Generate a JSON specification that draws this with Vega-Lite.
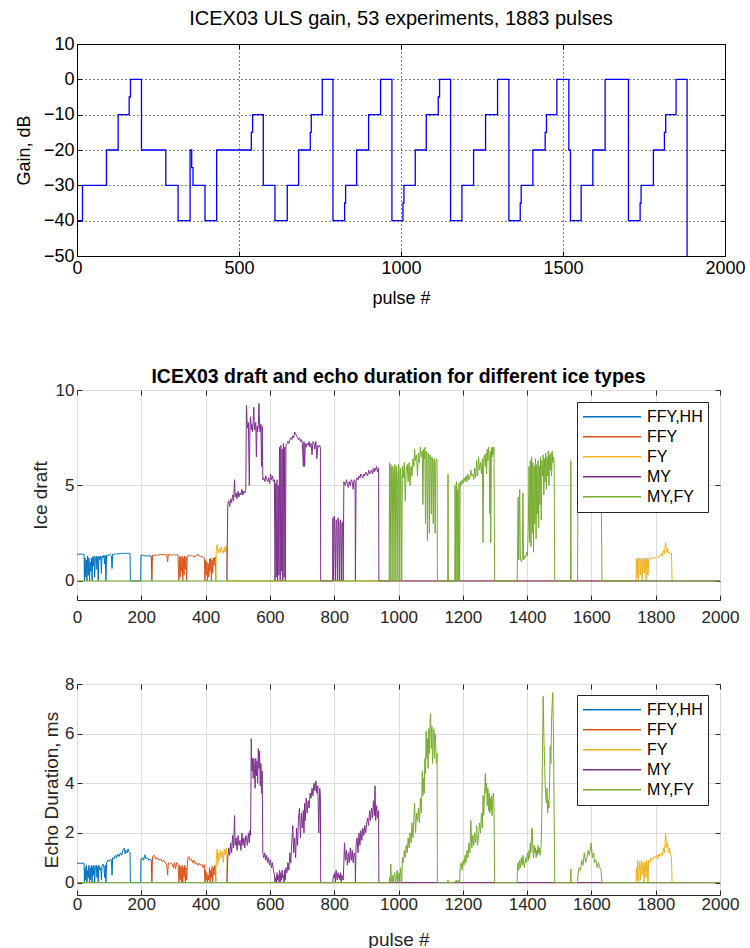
{
  "$schema": "https://vega.github.io/schema/vega-lite/v6.json",
  "background": "white",
  "padding": {"left": 14, "top": 8, "right": 5, "bottom": 5},
  "config": {"font": "Liberation Sans", "view": {"stroke": "#262626"}, "axis": {"labelFlush": false, "labelOverlap": false}},
  "datasets": {
    "gain": [
      {"p":0,"g":-40},{"p":17,"g":-30},{"p":91,"g":-20},{"p":127,"g":-10},{"p":161,"g":-5},{"p":165,"g":0},{"p":199,"g":-20},{"p":274,"g":-30},{"p":312,"g":-40},{"p":349,"g":-20},{"p":354,"g":-25},{"p":358,"g":-30},{"p":395,"g":-40},{"p":431,"g":-20},{"p":538,"g":-15},{"p":542,"g":-10},{"p":575,"g":-30},{"p":611,"g":-40},{"p":649,"g":-30},{"p":684,"g":-20},{"p":720,"g":-15},{"p":723,"g":-10},{"p":757,"g":0},{"p":790,"g":-40},{"p":826,"g":-35},{"p":829,"g":-30},{"p":863,"g":-20},{"p":900,"g":-10},{"p":937,"g":0},{"p":972,"g":-40},{"p":1006,"g":-35},{"p":1009,"g":-30},{"p":1044,"g":-20},{"p":1078,"g":-10},{"p":1115,"g":-5},{"p":1119,"g":0},{"p":1153,"g":-40},{"p":1188,"g":-30},{"p":1224,"g":-20},{"p":1261,"g":-10},{"p":1298,"g":0},{"p":1333,"g":-40},{"p":1368,"g":-35},{"p":1371,"g":-30},{"p":1407,"g":-20},{"p":1445,"g":-15},{"p":1449,"g":-10},{"p":1481,"g":0},{"p":1518,"g":-20},{"p":1523,"g":-40},{"p":1556,"g":-30},{"p":1592,"g":-20},{"p":1630,"g":0},{"p":1702,"g":-40},{"p":1738,"g":-35},{"p":1741,"g":-30},{"p":1779,"g":-20},{"p":1813,"g":-15},{"p":1817,"g":-10},{"p":1849,"g":0},{"p":1883,"g":-50}
    ],
    "ice": [
      {"p":0,"t":"FFY,HH","d":1.4,"e":0.78},{"p":22,"t":"FFY,HH","d":1.4,"e":0.78},{"p":23,"t":"FFY,HH","d":0,"e":0},{"p":25,"t":"FFY,HH","d":1.2,"e":0.6},{"p":27,"t":"FFY,HH","d":0.2,"e":0.1},{"p":29,"t":"FFY,HH","d":1.1,"e":0.7},{"p":31,"t":"FFY,HH","d":0,"e":0},{"p":33,"t":"FFY,HH","d":1.3,"e":0.5},{"p":35,"t":"FFY,HH","d":0.3,"e":0.2},{"p":37,"t":"FFY,HH","d":1.2,"e":0.7},{"p":39,"t":"FFY,HH","d":0,"e":0},{"p":41,"t":"FFY,HH","d":1.0,"e":0.6},{"p":43,"t":"FFY,HH","d":0.5,"e":0.1},{"p":45,"t":"FFY,HH","d":1.2,"e":0.7},{"p":47,"t":"FFY,HH","d":0,"e":0},{"p":49,"t":"FFY,HH","d":1.25,"e":0.65},{"p":51,"t":"FFY,HH","d":0.8,"e":0.3},{"p":53,"t":"FFY,HH","d":1.3,"e":0.7},{"p":55,"t":"FFY,HH","d":0.2,"e":0},{"p":57,"t":"FFY,HH","d":1.1,"e":0.6},{"p":60,"t":"FFY,HH","d":1.3,"e":0.7},{"p":62,"t":"FFY,HH","d":0.6,"e":0.2},{"p":64,"t":"FFY,HH","d":1.25,"e":0.65},{"p":66,"t":"FFY,HH","d":0,"e":0},{"p":68,"t":"FFY,HH","d":1.3,"e":0.7},{"p":71,"t":"FFY,HH","d":1.1,"e":0.5},{"p":74,"t":"FFY,HH","d":1.3,"e":0.6},{"p":76,"t":"FFY,HH","d":0.4,"e":0.1},{"p":78,"t":"FFY,HH","d":1.3,"e":0.7},{"p":81,"t":"FFY,HH","d":1.2,"e":0.75},{"p":84,"t":"FFY,HH","d":1.35,"e":0.6},{"p":86,"t":"FFY,HH","d":0.9,"e":0.2},{"p":88,"t":"FFY,HH","d":1.3,"e":0.7},{"p":90,"t":"FFY,HH","d":0,"e":0},{"p":92,"t":"FFY,HH","d":1.35,"e":0.8},{"p":96,"t":"FFY,HH","d":1.3,"e":0.9},{"p":100,"t":"FFY,HH","d":1.4,"e":0.85},{"p":104,"t":"FFY,HH","d":1.35,"e":0.95},{"p":107,"t":"FFY,HH","d":1.3,"e":0.9},{"p":109,"t":"FFY,HH","d":0.65,"e":0.3},{"p":111,"t":"FFY,HH","d":1.4,"e":1.0},{"p":115,"t":"FFY,HH","d":1.38,"e":0.95},{"p":119,"t":"FFY,HH","d":1.42,"e":1.1},{"p":123,"t":"FFY,HH","d":1.4,"e":1.0},{"p":127,"t":"FFY,HH","d":1.43,"e":1.15},{"p":131,"t":"FFY,HH","d":1.42,"e":1.05},{"p":135,"t":"FFY,HH","d":1.45,"e":1.2},{"p":139,"t":"FFY,HH","d":1.43,"e":1.1},{"p":143,"t":"FFY,HH","d":1.45,"e":1.3},{"p":147,"t":"FFY,HH","d":1.44,"e":1.38},{"p":150,"t":"FFY,HH","d":1.45,"e":1.15},{"p":153,"t":"FFY,HH","d":1.44,"e":1.3},{"p":156,"t":"FFY,HH","d":1.45,"e":1.2},{"p":159,"t":"FFY,HH","d":1.44,"e":1.35},{"p":162,"t":"FFY,HH","d":1.45,"e":1.25},{"p":165,"t":"FFY,HH","d":1.44,"e":1.2},{"p":166,"t":"FFY,HH","d":0,"e":0},{"p":198,"t":"FFY,HH","d":0,"e":0},{"p":199,"t":"FFY,HH","d":1.35,"e":0.95},{"p":203,"t":"FFY,HH","d":1.33,"e":1.0},{"p":207,"t":"FFY,HH","d":1.35,"e":0.9},{"p":211,"t":"FFY,HH","d":1.32,"e":1.12},{"p":215,"t":"FFY,HH","d":1.3,"e":0.95},{"p":219,"t":"FFY,HH","d":1.32,"e":1.0},{"p":223,"t":"FFY,HH","d":1.3,"e":0.9},{"p":227,"t":"FFY,HH","d":1.31,"e":0.95},{"p":231,"t":"FFY,HH","d":1.3,"e":0.9},{"p":233,"t":"FFY,HH","d":0,"e":0},
      {"p":233,"t":"FFY","d":0,"e":0},{"p":235,"t":"FFY","d":1.35,"e":1.05},{"p":240,"t":"FFY","d":1.33,"e":1.1},{"p":245,"t":"FFY","d":1.36,"e":0.95},{"p":250,"t":"FFY","d":1.35,"e":1.0},{"p":255,"t":"FFY","d":1.36,"e":0.9},{"p":260,"t":"FFY","d":1.38,"e":0.95},{"p":265,"t":"FFY","d":1.37,"e":0.85},{"p":270,"t":"FFY","d":1.38,"e":0.9},{"p":275,"t":"FFY","d":1.36,"e":0.8},{"p":279,"t":"FFY","d":1.38,"e":0.7},{"p":282,"t":"FFY","d":1.0,"e":0.3},{"p":284,"t":"FFY","d":1.37,"e":0.8},{"p":288,"t":"FFY","d":1.38,"e":0.75},{"p":292,"t":"FFY","d":1.37,"e":0.8},{"p":296,"t":"FFY","d":1.35,"e":0.75},{"p":300,"t":"FFY","d":1.38,"e":0.6},{"p":303,"t":"FFY","d":1.36,"e":0.8},{"p":306,"t":"FFY","d":1.35,"e":0.55},{"p":310,"t":"FFY","d":1.37,"e":0.8},{"p":314,"t":"FFY","d":1.36,"e":0.75},{"p":317,"t":"FFY","d":0,"e":0},{"p":319,"t":"FFY","d":1.3,"e":0.7},{"p":321,"t":"FFY","d":0.2,"e":0.1},{"p":323,"t":"FFY","d":1.25,"e":0.65},{"p":325,"t":"FFY","d":0.5,"e":0},{"p":327,"t":"FFY","d":1.3,"e":0.7},{"p":329,"t":"FFY","d":0,"e":0},{"p":331,"t":"FFY","d":1.2,"e":0.6},{"p":333,"t":"FFY","d":0.3,"e":0.2},{"p":335,"t":"FFY","d":1.3,"e":0.7},{"p":337,"t":"FFY","d":0.6,"e":0},{"p":339,"t":"FFY","d":1.25,"e":0.6},{"p":341,"t":"FFY","d":0,"e":0.1},{"p":343,"t":"FFY","d":1.3,"e":0.65},{"p":345,"t":"FFY","d":1.32,"e":1.0},{"p":348,"t":"FFY","d":1.33,"e":1.05},{"p":352,"t":"FFY","d":1.3,"e":0.9},{"p":356,"t":"FFY","d":1.32,"e":0.95},{"p":360,"t":"FFY","d":1.3,"e":0.8},{"p":364,"t":"FFY","d":1.28,"e":0.9},{"p":368,"t":"FFY","d":1.3,"e":0.75},{"p":372,"t":"FFY","d":1.32,"e":0.8},{"p":376,"t":"FFY","d":1.4,"e":0.7},{"p":380,"t":"FFY","d":1.3,"e":0.78},{"p":384,"t":"FFY","d":1.28,"e":0.7},{"p":388,"t":"FFY","d":1.25,"e":0.75},{"p":392,"t":"FFY","d":1.27,"e":0.6},{"p":396,"t":"FFY","d":1.2,"e":0.72},{"p":398,"t":"FFY","d":0,"e":0},{"p":400,"t":"FFY","d":1.1,"e":0.5},{"p":402,"t":"FFY","d":0.3,"e":0.1},{"p":404,"t":"FFY","d":1.0,"e":0.4},{"p":406,"t":"FFY","d":0,"e":0},{"p":408,"t":"FFY","d":0.9,"e":0.3},{"p":410,"t":"FFY","d":0.2,"e":0.1},{"p":412,"t":"FFY","d":1.15,"e":0.6},{"p":414,"t":"FFY","d":0.5,"e":0},{"p":416,"t":"FFY","d":1.2,"e":0.5},{"p":418,"t":"FFY","d":0,"e":0.2},{"p":420,"t":"FFY","d":1.1,"e":0.65},{"p":422,"t":"FFY","d":0.4,"e":0},{"p":424,"t":"FFY","d":1.2,"e":0.6},{"p":426,"t":"FFY","d":0.8,"e":0.3},{"p":428,"t":"FFY","d":1.2,"e":0.7},{"p":430,"t":"FFY","d":1.25,"e":0.67},{"p":432,"t":"FFY","d":0,"e":0},
      {"p":432,"t":"FY","d":0,"e":0},{"p":433,"t":"FY","d":1.5,"e":0.9},{"p":436,"t":"FY","d":1.9,"e":1.35},{"p":438,"t":"FY","d":1.6,"e":0.7},{"p":440,"t":"FY","d":1.45,"e":1.2},{"p":443,"t":"FY","d":1.7,"e":0.9},{"p":446,"t":"FY","d":1.5,"e":1.3},{"p":449,"t":"FY","d":1.8,"e":1.0},{"p":452,"t":"FY","d":1.55,"e":1.25},{"p":455,"t":"FY","d":1.45,"e":0.8},{"p":458,"t":"FY","d":1.75,"e":1.35},{"p":461,"t":"FY","d":1.5,"e":1.1},{"p":464,"t":"FY","d":1.85,"e":1.4},{"p":466,"t":"FY","d":1.5,"e":1.2},{"p":467,"t":"FY","d":0,"e":0},{"p":1739,"t":"FY","d":0,"e":0},{"p":1740,"t":"FY","d":1.15,"e":0.6},{"p":1742,"t":"FY","d":0.2,"e":0.1},{"p":1744,"t":"FY","d":1.2,"e":0.9},{"p":1746,"t":"FY","d":0,"e":0},{"p":1748,"t":"FY","d":1.1,"e":0.5},{"p":1750,"t":"FY","d":1.2,"e":0.85},{"p":1752,"t":"FY","d":0.3,"e":0.1},{"p":1754,"t":"FY","d":1.15,"e":0.7},{"p":1756,"t":"FY","d":1.2,"e":0.9},{"p":1758,"t":"FY","d":0,"e":0.3},{"p":1760,"t":"FY","d":1.1,"e":0.8},{"p":1762,"t":"FY","d":1.2,"e":0.6},{"p":1764,"t":"FY","d":0.4,"e":0},{"p":1766,"t":"FY","d":1.15,"e":0.85},{"p":1768,"t":"FY","d":1.2,"e":0.7},{"p":1770,"t":"FY","d":0,"e":0.2},{"p":1772,"t":"FY","d":1.1,"e":0.9},{"p":1774,"t":"FY","d":1.2,"e":0.75},{"p":1776,"t":"FY","d":0.3,"e":0},{"p":1778,"t":"FY","d":1.15,"e":0.9},{"p":1782,"t":"FY","d":1.2,"e":0.8},{"p":1786,"t":"FY","d":1.15,"e":1.0},{"p":1790,"t":"FY","d":1.2,"e":0.9},{"p":1794,"t":"FY","d":1.22,"e":1.05},{"p":1798,"t":"FY","d":1.2,"e":1.0},{"p":1802,"t":"FY","d":1.25,"e":1.1},{"p":1806,"t":"FY","d":1.22,"e":0.95},{"p":1810,"t":"FY","d":1.25,"e":1.15},{"p":1814,"t":"FY","d":1.3,"e":1.05},{"p":1818,"t":"FY","d":1.45,"e":1.2},{"p":1821,"t":"FY","d":1.3,"e":1.1},{"p":1824,"t":"FY","d":1.6,"e":1.4},{"p":1827,"t":"FY","d":1.4,"e":1.2},{"p":1829,"t":"FY","d":1.8,"e":1.6},{"p":1831,"t":"FY","d":2.0,"e":1.99},{"p":1834,"t":"FY","d":1.5,"e":1.4},{"p":1837,"t":"FY","d":1.7,"e":1.6},{"p":1840,"t":"FY","d":1.45,"e":1.2},{"p":1843,"t":"FY","d":1.5,"e":1.4},{"p":1846,"t":"FY","d":1.4,"e":1.1},{"p":1849,"t":"FY","d":1.45,"e":1.0},{"p":1851,"t":"FY","d":0,"e":0},
      {"p":466,"t":"MY","d":0,"e":0},{"p":469,"t":"MY","d":4.0,"e":1.0},{"p":472,"t":"MY","d":4.2,"e":1.4},{"p":475,"t":"MY","d":3.9,"e":1.1},{"p":478,"t":"MY","d":4.3,"e":1.6},{"p":481,"t":"MY","d":4.1,"e":1.2},{"p":484,"t":"MY","d":4.5,"e":1.9},{"p":487,"t":"MY","d":4.2,"e":1.4},{"p":490,"t":"MY","d":5.3,"e":2.7},{"p":492,"t":"MY","d":4.4,"e":1.5},{"p":495,"t":"MY","d":4.6,"e":1.8},{"p":498,"t":"MY","d":4.3,"e":1.3},{"p":501,"t":"MY","d":4.7,"e":1.9},{"p":504,"t":"MY","d":4.4,"e":1.5},{"p":507,"t":"MY","d":4.6,"e":1.7},{"p":510,"t":"MY","d":4.5,"e":1.3},{"p":513,"t":"MY","d":4.8,"e":2.0},{"p":516,"t":"MY","d":4.5,"e":1.5},{"p":519,"t":"MY","d":4.7,"e":1.8},{"p":522,"t":"MY","d":4.6,"e":1.4},{"p":525,"t":"MY","d":4.8,"e":1.9},{"p":527,"t":"MY","d":9.2,"e":1.8},{"p":530,"t":"MY","d":8.0,"e":1.5},{"p":533,"t":"MY","d":8.3,"e":2.0},{"p":536,"t":"MY","d":5.0,"e":1.6},{"p":538,"t":"MY","d":8.1,"e":2.1},{"p":540,"t":"MY","d":8.6,"e":1.9},{"p":542,"t":"MY","d":7.9,"e":5.8},{"p":544,"t":"MY","d":8.2,"e":4.5},{"p":546,"t":"MY","d":7.8,"e":5.0},{"p":548,"t":"MY","d":8.4,"e":4.2},{"p":550,"t":"MY","d":9.1,"e":5.0},{"p":552,"t":"MY","d":7.9,"e":4.6},{"p":554,"t":"MY","d":8.0,"e":3.8},{"p":556,"t":"MY","d":8.3,"e":5.0},{"p":558,"t":"MY","d":6.5,"e":4.3},{"p":560,"t":"MY","d":8.1,"e":4.9},{"p":562,"t":"MY","d":7.8,"e":4.0},{"p":564,"t":"MY","d":8.2,"e":5.4},{"p":566,"t":"MY","d":9.3,"e":4.6},{"p":568,"t":"MY","d":8.0,"e":5.3},{"p":570,"t":"MY","d":7.8,"e":3.9},{"p":572,"t":"MY","d":8.2,"e":4.8},{"p":574,"t":"MY","d":6.0,"e":3.6},{"p":576,"t":"MY","d":8.1,"e":4.5},{"p":578,"t":"MY","d":5.3,"e":1.2},{"p":581,"t":"MY","d":5.4,"e":1.0},{"p":584,"t":"MY","d":5.2,"e":1.2},{"p":587,"t":"MY","d":5.5,"e":0.9},{"p":590,"t":"MY","d":5.3,"e":1.1},{"p":593,"t":"MY","d":5.2,"e":0.8},{"p":596,"t":"MY","d":5.4,"e":1.0},{"p":599,"t":"MY","d":5.1,"e":0.7},{"p":602,"t":"MY","d":5.6,"e":0.9},{"p":605,"t":"MY","d":5.3,"e":0.6},{"p":608,"t":"MY","d":5.5,"e":0.8},{"p":611,"t":"MY","d":5.2,"e":0.5},{"p":614,"t":"MY","d":5.3,"e":0.3},{"p":616,"t":"MY","d":0,"e":0},{"p":618,"t":"MY","d":5.1,"e":0.2},{"p":620,"t":"MY","d":0.2,"e":0},{"p":622,"t":"MY","d":5.3,"e":0.4},{"p":624,"t":"MY","d":0,"e":0.1},{"p":626,"t":"MY","d":5.0,"e":0.3},{"p":628,"t":"MY","d":0.3,"e":0},{"p":630,"t":"MY","d":7.0,"e":0.5},{"p":632,"t":"MY","d":0,"e":0},{"p":634,"t":"MY","d":7.1,"e":0.4},{"p":636,"t":"MY","d":0.5,"e":0.1},{"p":638,"t":"MY","d":6.9,"e":0.5},{"p":640,"t":"MY","d":0,"e":0.2},{"p":642,"t":"MY","d":7.2,"e":0.3},{"p":644,"t":"MY","d":0.2,"e":0},{"p":646,"t":"MY","d":7.0,"e":0.5},{"p":648,"t":"MY","d":0,"e":0.1},{"p":650,"t":"MY","d":7.1,"e":0.6},{"p":653,"t":"MY","d":7.2,"e":0.4},{"p":656,"t":"MY","d":7.3,"e":0.8},{"p":659,"t":"MY","d":7.2,"e":0.5},{"p":662,"t":"MY","d":7.4,"e":1.2},{"p":665,"t":"MY","d":7.5,"e":0.8},{"p":668,"t":"MY","d":7.4,"e":1.6},{"p":671,"t":"MY","d":7.6,"e":2.3},{"p":674,"t":"MY","d":7.5,"e":1.2},{"p":677,"t":"MY","d":7.8,"e":1.8},{"p":680,"t":"MY","d":7.7,"e":1.0},{"p":683,"t":"MY","d":7.6,"e":2.2},{"p":686,"t":"MY","d":7.5,"e":1.5},{"p":689,"t":"MY","d":7.4,"e":2.6},{"p":692,"t":"MY","d":7.5,"e":3.0},{"p":695,"t":"MY","d":7.3,"e":1.8},{"p":698,"t":"MY","d":7.4,"e":2.8},{"p":701,"t":"MY","d":7.2,"e":2.2},{"p":704,"t":"MY","d":6.0,"e":2.9},{"p":706,"t":"MY","d":7.3,"e":2.0},{"p":708,"t":"MY","d":6.0,"e":3.2},{"p":710,"t":"MY","d":7.2,"e":2.5},{"p":713,"t":"MY","d":7.0,"e":3.4},{"p":716,"t":"MY","d":7.2,"e":2.8},{"p":719,"t":"MY","d":7.1,"e":3.3},{"p":722,"t":"MY","d":7.3,"e":3.0},{"p":725,"t":"MY","d":7.0,"e":3.6},{"p":728,"t":"MY","d":7.2,"e":3.4},{"p":731,"t":"MY","d":6.6,"e":3.8},{"p":734,"t":"MY","d":7.3,"e":3.5},{"p":737,"t":"MY","d":7.2,"e":4.0},{"p":740,"t":"MY","d":6.9,"e":3.7},{"p":743,"t":"MY","d":7.3,"e":4.1},{"p":746,"t":"MY","d":6.4,"e":3.6},{"p":749,"t":"MY","d":7.1,"e":3.9},{"p":752,"t":"MY","d":7.0,"e":2.0},{"p":755,"t":"MY","d":7.1,"e":3.8},{"p":757,"t":"MY","d":7.0,"e":3.5},{"p":758,"t":"MY","d":0,"e":0},{"p":795,"t":"MY","d":0,"e":0},{"p":796,"t":"MY","d":3.3,"e":0.1},{"p":798,"t":"MY","d":0,"e":0.3},{"p":800,"t":"MY","d":3.4,"e":0.2},{"p":802,"t":"MY","d":2.8,"e":0.4},{"p":804,"t":"MY","d":0,"e":0},{"p":806,"t":"MY","d":3.2,"e":0.5},{"p":808,"t":"MY","d":3.0,"e":0.2},{"p":810,"t":"MY","d":0,"e":0.1},{"p":812,"t":"MY","d":3.3,"e":0.4},{"p":814,"t":"MY","d":2.9,"e":0.2},{"p":816,"t":"MY","d":0,"e":0.3},{"p":818,"t":"MY","d":3.1,"e":0.1},{"p":820,"t":"MY","d":3.2,"e":0.4},{"p":822,"t":"MY","d":0,"e":0},{"p":824,"t":"MY","d":3.0,"e":0.3},{"p":826,"t":"MY","d":3.1,"e":0.2},{"p":828,"t":"MY","d":0,"e":0.1},{"p":830,"t":"MY","d":5.2,"e":0.8},{"p":832,"t":"MY","d":5.1,"e":1.6},{"p":835,"t":"MY","d":5.0,"e":0.9},{"p":838,"t":"MY","d":5.3,"e":1.3},{"p":841,"t":"MY","d":5.1,"e":0.7},{"p":844,"t":"MY","d":4.9,"e":1.2},{"p":847,"t":"MY","d":5.2,"e":0.8},{"p":850,"t":"MY","d":5.0,"e":1.4},{"p":853,"t":"MY","d":5.3,"e":0.9},{"p":856,"t":"MY","d":5.2,"e":1.3},{"p":859,"t":"MY","d":4.8,"e":0.8},{"p":862,"t":"MY","d":5.3,"e":1.2},{"p":865,"t":"MY","d":5.2,"e":1.0},{"p":866,"t":"MY","d":0,"e":0},{"p":868,"t":"MY","d":5.2,"e":1.5},{"p":871,"t":"MY","d":5.4,"e":1.8},{"p":874,"t":"MY","d":5.3,"e":1.2},{"p":877,"t":"MY","d":5.5,"e":2.0},{"p":880,"t":"MY","d":5.4,"e":1.5},{"p":883,"t":"MY","d":5.6,"e":2.1},{"p":886,"t":"MY","d":5.5,"e":1.7},{"p":889,"t":"MY","d":5.4,"e":2.2},{"p":892,"t":"MY","d":5.6,"e":1.9},{"p":895,"t":"MY","d":5.5,"e":2.3},{"p":898,"t":"MY","d":5.7,"e":2.0},{"p":901,"t":"MY","d":5.6,"e":2.4},{"p":904,"t":"MY","d":5.5,"e":2.6},{"p":907,"t":"MY","d":5.8,"e":2.3},{"p":910,"t":"MY","d":5.6,"e":2.9},{"p":913,"t":"MY","d":5.7,"e":2.5},{"p":916,"t":"MY","d":5.8,"e":3.0},{"p":919,"t":"MY","d":5.6,"e":2.6},{"p":922,"t":"MY","d":5.9,"e":3.3},{"p":925,"t":"MY","d":5.7,"e":2.7},{"p":927,"t":"MY","d":5.9,"e":3.9},{"p":929,"t":"MY","d":5.8,"e":2.5},{"p":932,"t":"MY","d":6.0,"e":3.1},{"p":935,"t":"MY","d":5.7,"e":2.6},{"p":938,"t":"MY","d":5.9,"e":2.9},{"p":939,"t":"MY","d":0,"e":0},{"p":2000,"t":"MY","d":0,"e":0},
      {"p":0,"t":"MY,FY","d":0,"e":0},{"p":971,"t":"MY,FY","d":0,"e":0},{"p":972,"t":"MY,FY","d":6.2,"e":0.2},{"p":974,"t":"MY,FY","d":0,"e":0},{"p":976,"t":"MY,FY","d":6.1,"e":0.75},{"p":978,"t":"MY,FY","d":6.0,"e":0.1},{"p":980,"t":"MY,FY","d":0,"e":0},{"p":982,"t":"MY,FY","d":6.0,"e":0.3},{"p":984,"t":"MY,FY","d":5.8,"e":0},{"p":986,"t":"MY,FY","d":0,"e":0.2},{"p":988,"t":"MY,FY","d":6.1,"e":0.4},{"p":990,"t":"MY,FY","d":5.9,"e":0.1},{"p":992,"t":"MY,FY","d":0,"e":0},{"p":994,"t":"MY,FY","d":6.0,"e":0.3},{"p":996,"t":"MY,FY","d":5.5,"e":0.5},{"p":998,"t":"MY,FY","d":0,"e":0},{"p":1000,"t":"MY,FY","d":6.1,"e":0.2},{"p":1002,"t":"MY,FY","d":5.6,"e":0.4},{"p":1004,"t":"MY,FY","d":0,"e":0},{"p":1006,"t":"MY,FY","d":5.9,"e":0.6},{"p":1008,"t":"MY,FY","d":5.3,"e":0.3},{"p":1010,"t":"MY,FY","d":0,"e":0},{"p":1012,"t":"MY,FY","d":6.0,"e":1.0},{"p":1015,"t":"MY,FY","d":5.4,"e":0.8},{"p":1018,"t":"MY,FY","d":6.2,"e":1.3},{"p":1021,"t":"MY,FY","d":4.2,"e":1.0},{"p":1024,"t":"MY,FY","d":5.8,"e":1.5},{"p":1027,"t":"MY,FY","d":6.1,"e":1.2},{"p":1030,"t":"MY,FY","d":5.2,"e":1.8},{"p":1033,"t":"MY,FY","d":6.2,"e":1.4},{"p":1036,"t":"MY,FY","d":5.0,"e":2.0},{"p":1039,"t":"MY,FY","d":6.0,"e":1.6},{"p":1042,"t":"MY,FY","d":5.5,"e":2.4},{"p":1045,"t":"MY,FY","d":6.4,"e":1.8},{"p":1048,"t":"MY,FY","d":6.0,"e":2.6},{"p":1050,"t":"MY,FY","d":6.9,"e":3.2},{"p":1053,"t":"MY,FY","d":6.3,"e":2.0},{"p":1056,"t":"MY,FY","d":6.6,"e":2.8},{"p":1059,"t":"MY,FY","d":5.5,"e":2.5},{"p":1062,"t":"MY,FY","d":6.7,"e":3.0},{"p":1065,"t":"MY,FY","d":6.2,"e":2.4},{"p":1068,"t":"MY,FY","d":7.0,"e":3.4},{"p":1071,"t":"MY,FY","d":6.5,"e":2.8},{"p":1074,"t":"MY,FY","d":6.8,"e":4.5},{"p":1076,"t":"MY,FY","d":4.0,"e":3.5},{"p":1078,"t":"MY,FY","d":6.9,"e":4.2},{"p":1080,"t":"MY,FY","d":6.4,"e":3.6},{"p":1082,"t":"MY,FY","d":7.0,"e":5.0},{"p":1084,"t":"MY,FY","d":3.0,"e":4.4},{"p":1086,"t":"MY,FY","d":6.8,"e":6.1},{"p":1088,"t":"MY,FY","d":6.5,"e":5.0},{"p":1090,"t":"MY,FY","d":2.1,"e":5.8},{"p":1092,"t":"MY,FY","d":6.7,"e":4.6},{"p":1094,"t":"MY,FY","d":6.4,"e":6.2},{"p":1096,"t":"MY,FY","d":2.5,"e":5.2},{"p":1098,"t":"MY,FY","d":6.6,"e":6.5},{"p":1100,"t":"MY,FY","d":6.3,"e":6.8},{"p":1102,"t":"MY,FY","d":3.5,"e":5.4},{"p":1104,"t":"MY,FY","d":6.5,"e":6.3},{"p":1106,"t":"MY,FY","d":6.2,"e":4.8},{"p":1108,"t":"MY,FY","d":3.0,"e":5.8},{"p":1110,"t":"MY,FY","d":6.4,"e":6.2},{"p":1112,"t":"MY,FY","d":6.3,"e":5.0},{"p":1114,"t":"MY,FY","d":2.5,"e":6.0},{"p":1116,"t":"MY,FY","d":6.2,"e":5.5},{"p":1118,"t":"MY,FY","d":6.4,"e":4.8},{"p":1120,"t":"MY,FY","d":6.3,"e":5.2},{"p":1121,"t":"MY,FY","d":0,"e":0},{"p":1153,"t":"MY,FY","d":0,"e":0},{"p":1154,"t":"MY,FY","d":5.6,"e":0.1},{"p":1155,"t":"MY,FY","d":0,"e":0},{"p":1175,"t":"MY,FY","d":0,"e":0},{"p":1176,"t":"MY,FY","d":5.0,"e":0.05},{"p":1178,"t":"MY,FY","d":0,"e":0},{"p":1180,"t":"MY,FY","d":5.2,"e":0.1},{"p":1182,"t":"MY,FY","d":0,"e":0},{"p":1184,"t":"MY,FY","d":4.8,"e":0.05},{"p":1186,"t":"MY,FY","d":0,"e":0},{"p":1188,"t":"MY,FY","d":5.1,"e":0.1},{"p":1190,"t":"MY,FY","d":0,"e":0},{"p":1192,"t":"MY,FY","d":5.2,"e":0.6},{"p":1195,"t":"MY,FY","d":5.0,"e":0.8},{"p":1198,"t":"MY,FY","d":5.3,"e":0.5},{"p":1201,"t":"MY,FY","d":5.1,"e":0.9},{"p":1204,"t":"MY,FY","d":5.4,"e":0.7},{"p":1207,"t":"MY,FY","d":5.2,"e":1.1},{"p":1210,"t":"MY,FY","d":5.5,"e":0.8},{"p":1213,"t":"MY,FY","d":5.2,"e":1.3},{"p":1216,"t":"MY,FY","d":5.6,"e":1.0},{"p":1219,"t":"MY,FY","d":5.3,"e":1.6},{"p":1222,"t":"MY,FY","d":5.4,"e":1.2},{"p":1225,"t":"MY,FY","d":5.8,"e":2.5},{"p":1228,"t":"MY,FY","d":5.5,"e":1.4},{"p":1231,"t":"MY,FY","d":5.6,"e":1.9},{"p":1234,"t":"MY,FY","d":5.3,"e":1.5},{"p":1237,"t":"MY,FY","d":5.9,"e":2.0},{"p":1240,"t":"MY,FY","d":5.4,"e":1.6},{"p":1243,"t":"MY,FY","d":6.3,"e":2.3},{"p":1246,"t":"MY,FY","d":5.5,"e":1.5},{"p":1249,"t":"MY,FY","d":6.5,"e":1.9},{"p":1252,"t":"MY,FY","d":5.8,"e":2.4},{"p":1255,"t":"MY,FY","d":6.2,"e":2.0},{"p":1258,"t":"MY,FY","d":5.6,"e":2.8},{"p":1261,"t":"MY,FY","d":6.4,"e":2.2},{"p":1263,"t":"MY,FY","d":2.0,"e":3.5},{"p":1265,"t":"MY,FY","d":6.3,"e":2.7},{"p":1267,"t":"MY,FY","d":6.6,"e":3.3},{"p":1270,"t":"MY,FY","d":6.0,"e":4.4},{"p":1272,"t":"MY,FY","d":6.7,"e":3.6},{"p":1274,"t":"MY,FY","d":5.6,"e":4.0},{"p":1276,"t":"MY,FY","d":6.9,"e":3.1},{"p":1278,"t":"MY,FY","d":6.3,"e":3.8},{"p":1280,"t":"MY,FY","d":7.0,"e":2.9},{"p":1282,"t":"MY,FY","d":6.5,"e":3.6},{"p":1284,"t":"MY,FY","d":3.5,"e":2.8},{"p":1286,"t":"MY,FY","d":6.8,"e":3.4},{"p":1287,"t":"MY,FY","d":2.0,"e":2.9},{"p":1289,"t":"MY,FY","d":7.0,"e":3.5},{"p":1291,"t":"MY,FY","d":6.5,"e":2.7},{"p":1293,"t":"MY,FY","d":7.0,"e":3.3},{"p":1295,"t":"MY,FY","d":6.6,"e":3.6},{"p":1297,"t":"MY,FY","d":7.0,"e":3.2},{"p":1299,"t":"MY,FY","d":0,"e":0},{"p":1369,"t":"MY,FY","d":0,"e":0},{"p":1370,"t":"MY,FY","d":1.0,"e":0.6},{"p":1372,"t":"MY,FY","d":4.4,"e":0.8},{"p":1374,"t":"MY,FY","d":1.1,"e":0.5},{"p":1377,"t":"MY,FY","d":4.8,"e":0.9},{"p":1379,"t":"MY,FY","d":1.2,"e":0.6},{"p":1382,"t":"MY,FY","d":1.0,"e":1.0},{"p":1385,"t":"MY,FY","d":1.2,"e":0.7},{"p":1387,"t":"MY,FY","d":4.6,"e":1.1},{"p":1389,"t":"MY,FY","d":1.1,"e":0.8},{"p":1392,"t":"MY,FY","d":1.3,"e":0.6},{"p":1395,"t":"MY,FY","d":1.2,"e":1.0},{"p":1398,"t":"MY,FY","d":1.5,"e":0.8},{"p":1401,"t":"MY,FY","d":1.3,"e":1.2},{"p":1404,"t":"MY,FY","d":3.0,"e":0.9},{"p":1406,"t":"MY,FY","d":6.0,"e":1.3},{"p":1408,"t":"MY,FY","d":2.0,"e":1.0},{"p":1410,"t":"MY,FY","d":6.3,"e":1.6},{"p":1412,"t":"MY,FY","d":1.8,"e":1.2},{"p":1414,"t":"MY,FY","d":6.5,"e":2.1},{"p":1416,"t":"MY,FY","d":2.5,"e":2.2},{"p":1418,"t":"MY,FY","d":6.2,"e":1.3},{"p":1420,"t":"MY,FY","d":1.5,"e":1.0},{"p":1422,"t":"MY,FY","d":6.0,"e":1.5},{"p":1424,"t":"MY,FY","d":3.0,"e":1.2},{"p":1426,"t":"MY,FY","d":6.4,"e":1.4},{"p":1428,"t":"MY,FY","d":2.2,"e":1.0},{"p":1430,"t":"MY,FY","d":6.1,"e":1.3},{"p":1432,"t":"MY,FY","d":3.5,"e":1.1},{"p":1434,"t":"MY,FY","d":6.3,"e":1.5},{"p":1436,"t":"MY,FY","d":2.8,"e":1.2},{"p":1438,"t":"MY,FY","d":6.0,"e":1.4},{"p":1440,"t":"MY,FY","d":4.0,"e":1.1},{"p":1442,"t":"MY,FY","d":6.5,"e":1.3},{"p":1444,"t":"MY,FY","d":3.2,"e":1.5},{"p":1446,"t":"MY,FY","d":6.3,"e":3.0},{"p":1448,"t":"MY,FY","d":5.5,"e":5.5},{"p":1450,"t":"MY,FY","d":6.6,"e":7.5},{"p":1452,"t":"MY,FY","d":4.5,"e":6.0},{"p":1454,"t":"MY,FY","d":6.4,"e":5.0},{"p":1456,"t":"MY,FY","d":5.2,"e":4.0},{"p":1458,"t":"MY,FY","d":6.7,"e":3.5},{"p":1460,"t":"MY,FY","d":4.8,"e":3.2},{"p":1462,"t":"MY,FY","d":6.5,"e":3.8},{"p":1464,"t":"MY,FY","d":5.5,"e":2.8},{"p":1466,"t":"MY,FY","d":6.8,"e":3.3},{"p":1468,"t":"MY,FY","d":5.0,"e":3.0},{"p":1470,"t":"MY,FY","d":6.6,"e":4.0},{"p":1472,"t":"MY,FY","d":5.8,"e":5.5},{"p":1474,"t":"MY,FY","d":6.7,"e":4.8},{"p":1476,"t":"MY,FY","d":5.5,"e":6.5},{"p":1478,"t":"MY,FY","d":6.8,"e":7.2},{"p":1480,"t":"MY,FY","d":6.2,"e":7.65},{"p":1482,"t":"MY,FY","d":6.5,"e":6.0},{"p":1484,"t":"MY,FY","d":6.3,"e":3.0},{"p":1486,"t":"MY,FY","d":0,"e":0},{"p":1535,"t":"MY,FY","d":0,"e":0},{"p":1536,"t":"MY,FY","d":6.3,"e":0.55},{"p":1537,"t":"MY,FY","d":0,"e":0},{"p":1557,"t":"MY,FY","d":0,"e":0},{"p":1558,"t":"MY,FY","d":5.6,"e":0.3},{"p":1562,"t":"MY,FY","d":5.2,"e":0.6},{"p":1566,"t":"MY,FY","d":5.8,"e":0.5},{"p":1570,"t":"MY,FY","d":5.4,"e":0.9},{"p":1574,"t":"MY,FY","d":6.0,"e":0.7},{"p":1578,"t":"MY,FY","d":5.5,"e":1.2},{"p":1582,"t":"MY,FY","d":5.9,"e":0.8},{"p":1586,"t":"MY,FY","d":5.3,"e":1.0},{"p":1590,"t":"MY,FY","d":5.8,"e":1.3},{"p":1594,"t":"MY,FY","d":5.6,"e":1.1},{"p":1599,"t":"MY,FY","d":6.0,"e":1.6},{"p":1603,"t":"MY,FY","d":5.5,"e":1.0},{"p":1607,"t":"MY,FY","d":5.9,"e":1.2},{"p":1610,"t":"MY,FY","d":5.4,"e":0.8},{"p":1614,"t":"MY,FY","d":5.8,"e":0.9},{"p":1618,"t":"MY,FY","d":5.5,"e":0.6},{"p":1622,"t":"MY,FY","d":5.9,"e":0.8},{"p":1626,"t":"MY,FY","d":5.6,"e":0.6},{"p":1630,"t":"MY,FY","d":5.8,"e":0.5},{"p":1633,"t":"MY,FY","d":0,"e":0},{"p":2000,"t":"MY,FY","d":0,"e":0}
    ]
  },
  "bounds": "flush",
  "spacing": 134,
  "vconcat": [
    {
      "width": 648,
      "height": 212,
      "view": {"stroke": "black"},
      "title": {"text": "ICEX03 ULS gain, 53 experiments, 1883 pulses", "fontSize": 20, "fontWeight": "normal", "color": "black", "offset": 6},
      "data": {"name": "gain"},
      "layer": [
        {
          "mark": {"type": "line", "interpolate": "step-after", "color": "#0000FF", "strokeWidth": 1.3, "clip": true},
          "encoding": {
            "x": {"field": "p", "type": "quantitative", "scale": {"domain": [0, 2000], "nice": false},
              "axis": {"values": [0, 500, 1000, 1500, 2000], "format": "d", "title": "pulse #", "grid": true, "gridDash": [1, 3], "gridColor": "black", "gridOpacity": 1, "domain": false, "tickSize": -5, "tickColor": "black", "labelFontSize": 18, "labelColor": "black", "labelPadding": 8, "titleFontSize": 18, "titleFontWeight": "normal", "titleColor": "black", "titlePadding": 12}},
            "y": {"field": "g", "type": "quantitative", "scale": {"domain": [-50, 10], "nice": false},
              "axis": {"values": [-50, -40, -30, -20, -10, 0, 10], "title": "Gain, dB", "grid": true, "gridDash": [1, 3], "gridColor": "black", "gridOpacity": 1, "domain": false, "tickSize": -5, "tickColor": "black", "labelFontSize": 18, "labelColor": "black", "labelPadding": 8, "titleFontSize": 18, "titleFontWeight": "normal", "titleColor": "black", "titlePadding": 10}}
          }
        },
        {
          "mark": {"type": "point", "opacity": 0},
          "encoding": {
            "x": {"field": "p", "type": "quantitative", "axis": {"orient": "top", "values": [0, 500, 1000, 1500, 2000], "labels": false, "title": null, "grid": false, "domain": false, "tickSize": -5, "tickColor": "black"}},
            "y": {"field": "g", "type": "quantitative", "axis": {"orient": "right", "values": [-50, -40, -30, -20, -10, 0, 10], "labels": false, "title": null, "grid": false, "domain": false, "tickSize": -5, "tickColor": "black"}}
          }
        }
      ],
      "resolve": {"axis": {"x": "independent", "y": "independent"}}
    },
    {
      "bounds": "flush",
      "spacing": 84,
      "resolve": {"scale": {"color": "independent"}, "legend": {"color": "independent"}},
      "vconcat": [
        {
          "width": 643,
          "height": 210,
          "title": {"text": "ICEX03 draft and echo duration for different ice types", "fontSize": 19.5, "fontWeight": "bold", "color": "black", "offset": -6},
          "data": {"name": "ice"},
          "layer": [
            {
              "mark": {"type": "line", "strokeWidth": 1, "clip": true},
              "encoding": {
                "x": {"field": "p", "type": "quantitative", "scale": {"domain": [0, 2000], "nice": false},
                  "axis": {"values": [0, 200, 400, 600, 800, 1000, 1200, 1400, 1600, 1800, 2000], "format": "d", "title": null, "grid": true, "gridColor": "#dedede", "domain": false, "tickSize": -5, "tickColor": "#262626", "labelFontSize": 17, "labelColor": "#262626", "labelPadding": 14}},
                "y": {"field": "d", "type": "quantitative", "scale": {"domain": [-1, 10], "nice": false},
                  "axis": {"values": [0, 5, 10], "title": "Ice draft", "grid": true, "gridColor": "#dedede", "domain": false, "tickSize": -5, "tickColor": "#262626", "labelFontSize": 17, "labelColor": "#262626", "labelPadding": 8, "titleFontSize": 19, "titleFontWeight": "normal", "titleColor": "#262626", "titlePadding": 5}},
                "color": {"field": "t", "type": "nominal", "scale": {"domain": ["FFY,HH", "FFY", "FY", "MY", "MY,FY"], "range": ["#0072BD", "#D95319", "#EDB120", "#7E2F8E", "#77AC30"]},
                  "legend": {"title": null, "orient": "none", "legendX": 500, "legendY": 12, "symbolType": "stroke", "symbolSize": 3364, "symbolStrokeWidth": 1.5, "labelFontSize": 16, "labelColor": "black", "strokeColor": "#262626", "fillColor": "white", "padding": 5, "rowPadding": 0, "clipHeight": 19.5, "labelOffset": 5}}
              }
            },
            {
              "mark": {"type": "point", "opacity": 0},
              "encoding": {
                "x": {"field": "p", "type": "quantitative", "axis": {"orient": "top", "values": [0, 200, 400, 600, 800, 1000, 1200, 1400, 1600, 1800, 2000], "labels": false, "title": null, "grid": false, "domain": false, "tickSize": -5, "tickColor": "#262626"}},
                "y": {"field": "d", "type": "quantitative", "axis": {"orient": "right", "values": [0, 5, 10], "labels": false, "title": null, "grid": false, "domain": false, "tickSize": -5, "tickColor": "#262626"}}
              }
            }
          ],
          "resolve": {"axis": {"x": "independent", "y": "independent"}}
        },
        {
          "width": 643,
          "height": 211,
          "data": {"name": "ice"},
          "layer": [
            {
              "mark": {"type": "line", "strokeWidth": 1, "clip": true},
              "encoding": {
                "x": {"field": "p", "type": "quantitative", "scale": {"domain": [0, 2000], "nice": false},
                  "axis": {"values": [0, 200, 400, 600, 800, 1000, 1200, 1400, 1600, 1800, 2000], "format": "d", "title": "pulse #", "grid": true, "gridColor": "#dedede", "domain": false, "tickSize": -5, "tickColor": "#262626", "labelFontSize": 17, "labelColor": "#262626", "labelPadding": 6, "titleFontSize": 19, "titleFontWeight": "normal", "titleColor": "#262626", "titlePadding": 18}},
                "y": {"field": "e", "type": "quantitative", "scale": {"domain": [-0.5, 8], "nice": false},
                  "axis": {"values": [0, 2, 4, 6, 8], "title": "Echo Duration, ms", "grid": true, "gridColor": "#dedede", "domain": false, "tickSize": -5, "tickColor": "#262626", "labelFontSize": 17, "labelColor": "#262626", "labelPadding": 8, "titleFontSize": 19, "titleFontWeight": "normal", "titleColor": "#262626", "titlePadding": 3}},
                "color": {"field": "t", "type": "nominal", "scale": {"domain": ["FFY,HH", "FFY", "FY", "MY", "MY,FY"], "range": ["#0072BD", "#D95319", "#EDB120", "#7E2F8E", "#77AC30"]},
                  "legend": {"title": null, "orient": "none", "legendX": 500, "legendY": 11, "symbolType": "stroke", "symbolSize": 3364, "symbolStrokeWidth": 1.5, "labelFontSize": 16, "labelColor": "black", "strokeColor": "#262626", "fillColor": "white", "padding": 5, "rowPadding": 0, "clipHeight": 19.5, "labelOffset": 5}}
              }
            },
            {
              "mark": {"type": "point", "opacity": 0},
              "encoding": {
                "x": {"field": "p", "type": "quantitative", "axis": {"orient": "top", "values": [0, 200, 400, 600, 800, 1000, 1200, 1400, 1600, 1800, 2000], "labels": false, "title": null, "grid": false, "domain": false, "tickSize": -5, "tickColor": "#262626"}},
                "y": {"field": "e", "type": "quantitative", "axis": {"orient": "right", "values": [0, 2, 4, 6, 8], "labels": false, "title": null, "grid": false, "domain": false, "tickSize": -5, "tickColor": "#262626"}}
              }
            }
          ],
          "resolve": {"axis": {"x": "independent", "y": "independent"}}
        }
      ]
    }
  ]
}
